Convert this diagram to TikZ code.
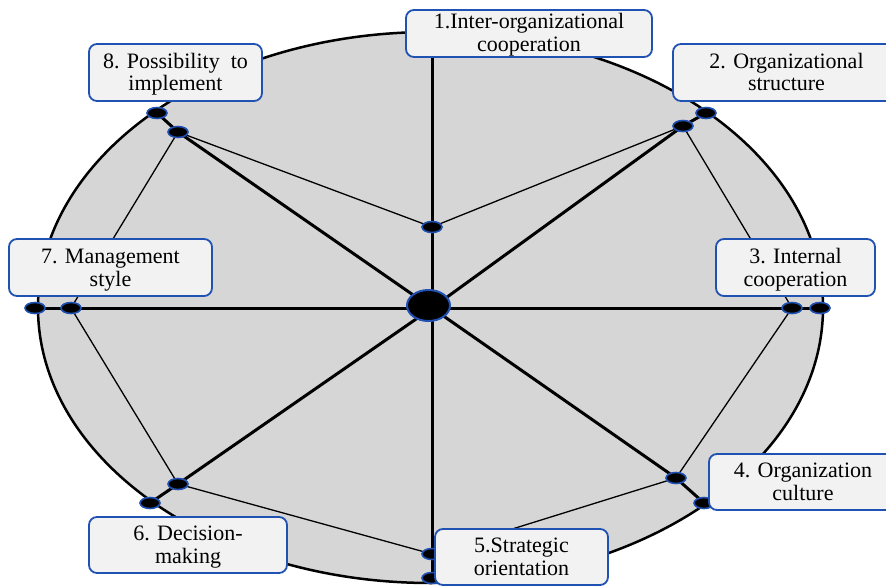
\documentclass[tikz,border=0pt]{standalone}
\usepackage{fontspec}
\setmainfont{Liberation Serif}
\usetikzlibrary{shapes.geometric}
\definecolor{bblue}{RGB}{32,82,180}
\definecolor{boxfill}{RGB}{242,242,242}
\definecolor{ellfill}{RGB}{214,214,214}
\pgfdeclarelayer{bg}
\pgfdeclarelayer{lines}
\pgfdeclarelayer{front}
\pgfsetlayers{bg,lines,main,front}
\newcommand{\twolines}[2]{\rule{0pt}{16pt}\smash{#1}\\\rule[-2pt]{0pt}{2pt}\smash{#2}}
\begin{document}
\begin{tikzpicture}[x=1pt,y=-1pt,
  dot/.style={ellipse, fill=black, draw=bblue, line width=1.6pt, minimum width=20pt, minimum height=11pt, inner sep=0pt},
  hubdot/.style={dot, minimum width=43pt, minimum height=31pt, line width=2pt},
  lbl/.style={rectangle, rounded corners=8pt, draw=bblue, line width=1.8pt, fill=boxfill, align=center, font=\fontsize{22}{23}\selectfont, inner sep=0pt},
  thinline/.style={line width=1.3pt},
  spoke/.style={line width=3pt}]
\useasboundingbox (0,0) rectangle (886,586);
\clip (0,0) rectangle (886,586);
% background ellipse
\begin{pgfonlayer}{bg}
\draw[fill=ellfill, line width=2.5pt] (430.5,307.5) ellipse [x radius=392.5, y radius=275.5];
\end{pgfonlayer}
% label boxes
\begin{pgfonlayer}{front}
\node[lbl, minimum width=246pt, minimum height=47pt] (b1) at (529,33.5) {\twolines{1.Inter-organizational}{cooperation}};
\node[lbl, minimum width=227pt, minimum height=57pt] (b2) at (786.5,72.5) {\twolines{2. Organizational}{structure}};
\node[lbl, minimum width=159pt, minimum height=57pt] (b3) at (795.5,267.5) {\twolines{3. Internal}{cooperation}};
\node[lbl, minimum width=188pt, minimum height=56pt] (b4) at (803,482) {\twolines{4. Organization}{culture}};
\node[lbl, minimum width=173pt, minimum height=56pt] (b5) at (521.5,557) {\twolines{5.Strategic}{orientation}};
\node[lbl, minimum width=198pt, minimum height=56pt] (b6) at (188,545) {\twolines{6. Decision-}{making}};
\node[lbl, minimum width=203pt, minimum height=57pt] (b7) at (110.5,267.5) {\twolines{7. Management}{style}};
\node[lbl, minimum width=173pt, minimum height=57pt] (b8) at (175.5,72.5) {\twolines{8. Possibility\ \ to}{implement}};
\end{pgfonlayer}
% hub and small nodes
\coordinate (hub) at (432,308);
\node[hubdot] (c) at (428.5,305.5) {};
\node[dot] (top) at (432,227) {};
\node[dot] (nei) at (683,126) {};
\node[dot] (neo) at (706,113) {};
\node[dot] (ei)  at (792,308) {};
\node[dot] (eo)  at (820,308) {};
\node[dot] (sei) at (676,478) {};
\node[dot] (seo) at (704,503) {};
\node[dot] (si)  at (432,554) {};
\node[dot] (so)  at (432,578) {};
\node[dot] (swi) at (178,484) {};
\node[dot] (swo) at (150,503) {};
\node[dot] (wi)  at (71,308) {};
\node[dot] (wo)  at (35,308) {};
\node[dot] (nwi) at (178,132) {};
\node[dot] (nwo) at (157,113) {};
% connectors
\begin{pgfonlayer}{lines}
\draw[thinline] (top.center) -- (nei.center) -- (ei.center) -- (sei.center) -- (si.center)
  -- (swi.center) -- (wi.center) -- (nwi.center) -- cycle;
\draw[spoke] (hub) -- (top.center) -- (hub |- b1.south);
\draw[spoke] (hub) -- (nei.center) -- (neo.center);
\draw[spoke] (hub) -- (ei.center) -- (eo.center);
\draw[spoke] (hub) -- (sei.center) -- (seo.center);
\draw[spoke] (hub) -- (si.center) -- (so.center);
\draw[spoke] (hub) -- (swi.center) -- (swo.center);
\draw[spoke] (hub) -- (wi.center) -- (wo.center);
\draw[spoke] (hub) -- (nwi.center) -- (nwo.center);
\end{pgfonlayer}
\end{tikzpicture}
\end{document}
